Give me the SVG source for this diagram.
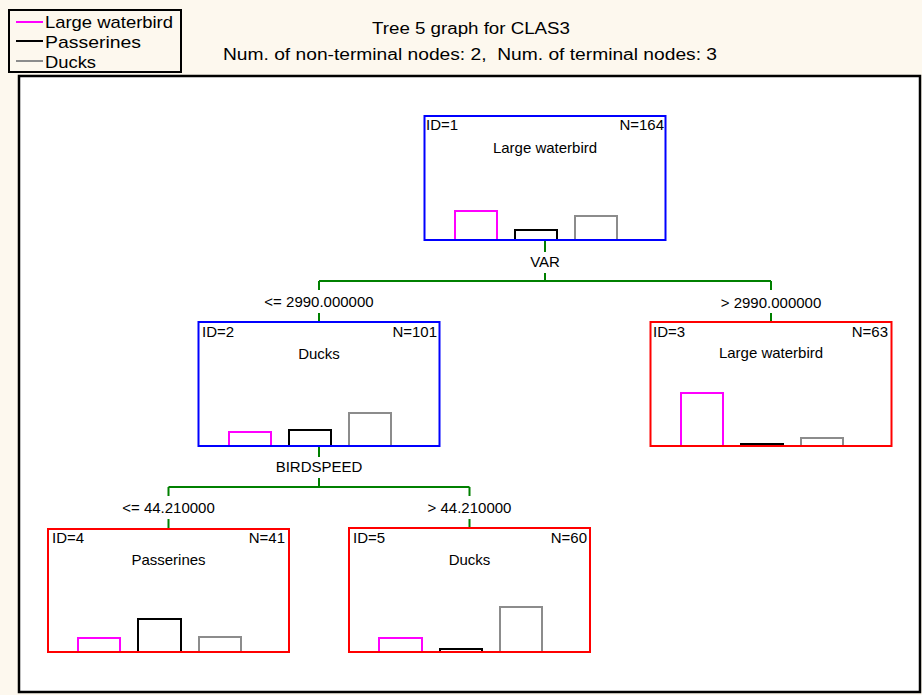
<svg xmlns="http://www.w3.org/2000/svg" width="922" height="695" viewBox="0 0 922 695">
<style>
text{font-family:"Liberation Sans",Arial,sans-serif;fill:#000}
.t{font-size:15px}
.m{text-anchor:middle}
.e{text-anchor:end}
.box{fill:none;stroke-width:2}
.nt{stroke:#0000ff}
.tm{stroke:#ff0000}
.bar{fill:none;stroke-width:2}
.b1{stroke:#ff00ff}
.b2{stroke:#000000}
.b3{stroke:#8c8c8c}
.con{fill:none;stroke:#008000;stroke-width:2}
</style>
<rect x="0" y="0" width="922" height="695" fill="#fdf8ee"/>
<rect x="19" y="76" width="901" height="616" fill="#ffffff" stroke="#000" stroke-width="2.5"/>
<g id="legend">
<rect x="9" y="10" width="172" height="62" fill="#fdf8ee" stroke="#000" stroke-width="2"/>
<line x1="16" y1="22" x2="43" y2="22" stroke="#ff00ff" stroke-width="2"/>
<line x1="16" y1="41" x2="43" y2="41" stroke="#000" stroke-width="2"/>
<line x1="16" y1="61" x2="43" y2="61" stroke="#8c8c8c" stroke-width="2"/>
<text x="45" y="28" font-size="17" textLength="128" lengthAdjust="spacingAndGlyphs">Large waterbird</text>
<text x="45" y="48" font-size="17" textLength="96" lengthAdjust="spacingAndGlyphs">Passerines</text>
<text x="45" y="68" font-size="17" textLength="51" lengthAdjust="spacingAndGlyphs">Ducks</text>
</g>
<g id="title">
<text x="372" y="34" font-size="16" textLength="198" lengthAdjust="spacingAndGlyphs">Tree 5 graph for CLAS3</text>
<text x="223" y="60" font-size="16" xml:space="preserve" textLength="494" lengthAdjust="spacingAndGlyphs">Num. of non-terminal nodes: 2,  Num. of terminal nodes: 3</text>
</g>
<g id="connectors">
<path class="con" d="M545 240V252M545 273V281M319 281H771M319 281V290M319 313V322M771 281V290M771 313V322"/>
<path class="con" d="M319 446V457M319 478V487M168.5 487H469.5M168.5 487V496M168.5 519V529M469.5 487V496M469.5 519V528"/>
<text class="t m" x="545" y="267">VAR</text>
<text class="t m" x="319" y="307">&lt;= 2990.000000</text>
<text class="t m" x="771" y="308">&gt; 2990.000000</text>
<text class="t m" x="319" y="472">BIRDSPEED</text>
<text class="t m" x="168.5" y="513">&lt;= 44.210000</text>
<text class="t m" x="469.5" y="513">&gt; 44.210000</text>
</g>
<g id="node1">
<path class="bar b1" d="M455 240V211H497V240"/>
<path class="bar b2" d="M515 240V230H557V240"/>
<path class="bar b3" d="M575 240V216H617V240"/>
<rect class="box nt" x="424.5" y="116" width="241" height="124"/>
<text class="t" x="426" y="130">ID=1</text>
<text class="t e" x="664" y="130">N=164</text>
<text class="t m" x="545" y="153">Large waterbird</text>
</g>
<g id="node2">
<path class="bar b1" d="M229 446V432H271V446"/>
<path class="bar b2" d="M289 446V430H331V446"/>
<path class="bar b3" d="M349 446V413H391V446"/>
<rect class="box nt" x="198.5" y="322" width="241" height="124"/>
<text class="t" x="202" y="337">ID=2</text>
<text class="t e" x="437" y="337">N=101</text>
<text class="t m" x="319" y="359">Ducks</text>
</g>
<g id="node3">
<path class="bar b1" d="M681 446V393H723V446"/>
<path class="bar b2" d="M741 446V444H783V446"/>
<path class="bar b3" d="M801 446V438H843V446"/>
<rect class="box tm" x="650.5" y="322" width="241" height="124"/>
<text class="t" x="653" y="337">ID=3</text>
<text class="t e" x="888" y="337">N=63</text>
<text class="t m" x="771" y="358">Large waterbird</text>
</g>
<g id="node4">
<path class="bar b1" d="M78 652V638H120V652"/>
<path class="bar b2" d="M138 652V619H181V652"/>
<path class="bar b3" d="M199 652V637H241V652"/>
<rect class="box tm" x="48" y="529" width="241" height="123"/>
<text class="t" x="52" y="543">ID=4</text>
<text class="t e" x="285" y="543">N=41</text>
<text class="t m" x="168.5" y="565">Passerines</text>
</g>
<g id="node5">
<path class="bar b1" d="M379 652V638H422V652"/>
<path class="bar b2" d="M440 652V649H482V652"/>
<path class="bar b3" d="M500 652V607H542V652"/>
<rect class="box tm" x="349" y="528" width="241" height="124"/>
<text class="t" x="353" y="543">ID=5</text>
<text class="t e" x="587" y="543">N=60</text>
<text class="t m" x="469.5" y="565">Ducks</text>
</g>
</svg>
